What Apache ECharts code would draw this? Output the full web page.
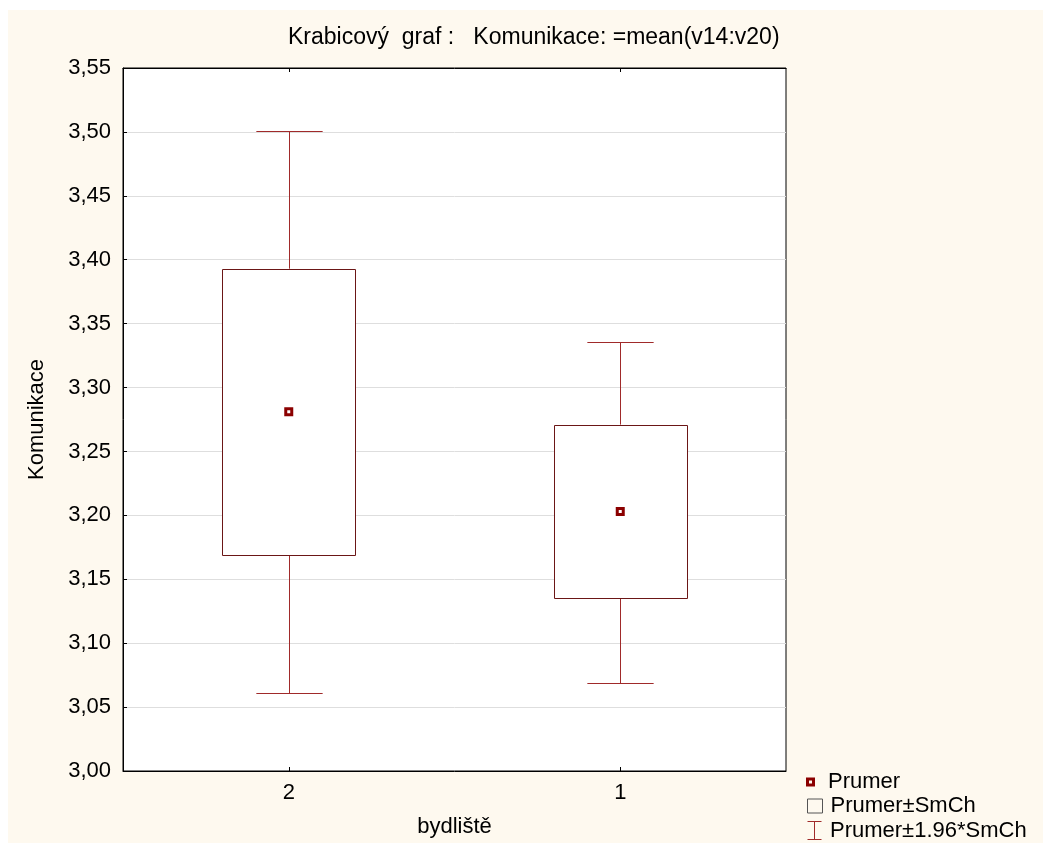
<!DOCTYPE html>
<html>
<head>
<meta charset="utf-8">
<script src="https://cdn.jsdelivr.net/npm/echarts@6/dist/echarts.min.js"></script>
<style>
html,body{margin:0;padding:0;background:#fff;}
#bg{position:absolute;left:8px;top:10px;width:1035px;height:833px;background:#FEF9EF;}
#chart{position:absolute;left:0;top:0;width:1043px;height:843px;}
</style>
</head>
<body>
<div id="bg"></div>
<div id="chart"></div>
<script>
// Data
var categories = ['2', '1'];
var means = [3.281, 3.203];
var seLow = [3.169, 3.135];
var seHigh = [3.393, 3.271];
var ciLow = [3.061, 3.069];
var ciHigh = [3.501, 3.336];
var yTicks = [3.00, 3.55, 0.05]; // min, max, interval

var FONT = '"Liberation Sans", Arial, sans-serif';
var BOX_COLOR = '#6b1616';
var WHISKER_COLOR = '#a02a2a';
var MEAN_COLOR = '#8b0000';

var boxData = categories.map(function (c, i) { return [i, seLow[i], seHigh[i]]; });
var ciData = categories.map(function (c, i) { return [i, ciLow[i], ciHigh[i], seLow[i], seHigh[i]]; });
var meanData = categories.map(function (c, i) { return [i, means[i]]; });

var chart = echarts.init(document.getElementById('chart'), null, {renderer: 'canvas'});
var legendText = {fontFamily: FONT, fontSize: 22, color: '#000'};
var option = {
  backgroundColor: 'transparent',
  animation: false,
  title: {
    text: 'Krabicový  graf :   Komunikace: =mean(v14:v20)',
    left: 288, top: 26, padding: 0,
    textStyle: {fontFamily: FONT, fontSize: 23, fontWeight: 'normal', color: '#000'}
  },
  grid: {
    left: 123, right: 257, top: 68, bottom: 72,
    show: true, backgroundColor: '#fff', borderColor: '#000', borderWidth: 1
  },
  legend: [
    {data: [{name: 'Prumer', icon: 'path://M0,0H9V9H0Z M3,3V6H6V3Z', itemStyle: {color: MEAN_COLOR, borderWidth: 0}}],
     left: 806, top: 771, padding: 0, itemWidth: 9, itemHeight: 9, itemGap: 0, selectedMode: false,
     textStyle: Object.assign({padding: [0, 0, 0, 8]}, legendText)},
    {data: [{name: 'Prumer±SmCh', icon: 'path://M0,0H15V14H0Z', itemStyle: {color: 'none', borderColor: '#555', borderWidth: 1}}],
     left: 805, top: 795, padding: 0, itemWidth: 15, itemHeight: 14, itemGap: 0, selectedMode: false,
     textStyle: Object.assign({padding: [0, 0, 0, 3]}, legendText)},
    {data: [{name: 'Prumer±1.96*SmCh', icon: 'path://M0,0H14M7,0V18M0,18H14', itemStyle: {color: 'none', borderColor: WHISKER_COLOR, borderWidth: 1}}],
     left: 805, top: 819, padding: 0, itemWidth: 15, itemHeight: 18, itemGap: 0, selectedMode: false,
     textStyle: Object.assign({padding: [0, 0, 0, 3]}, legendText)}
  ],
  xAxis: [{
    type: 'category', data: categories, position: 'bottom',
    name: 'bydliště', nameLocation: 'middle', nameGap: 45,
    nameTextStyle: {fontFamily: FONT, fontSize: 22, color: '#000'},
    axisLine: {show: true, lineStyle: {color: '#000', width: 1}},
    axisTick: {show: true, inside: true, alignWithLabel: true, length: 4, lineStyle: {color: '#000'}},
    axisLabel: {fontFamily: FONT, fontSize: 22, color: '#000', margin: 11},
    splitLine: {show: false}
  }, {
    type: 'category', data: categories, position: 'top',
    axisLine: {show: true, lineStyle: {color: '#000', width: 1}},
    axisTick: {show: true, inside: true, alignWithLabel: true, length: 4, lineStyle: {color: '#000'}},
    axisLabel: {show: false},
    splitLine: {show: false}
  }],
  yAxis: {
    type: 'value', min: yTicks[0], max: yTicks[1], interval: yTicks[2],
    name: 'Komunikace', nameLocation: 'middle', nameGap: 75,
    nameTextStyle: {fontFamily: FONT, fontSize: 22, color: '#000'},
    axisLine: {show: true, lineStyle: {color: '#000', width: 1}},
    axisTick: {show: true, inside: true, length: 4, lineStyle: {color: '#000'}},
    axisLabel: {fontFamily: FONT, fontSize: 22, color: '#000', margin: 12,
      formatter: function (v) { return v.toFixed(2).replace('.', ','); }},
    splitLine: {show: true, lineStyle: {color: '#dedede', width: 1}}
  },
  series: [
    {
      name: 'Prumer±1.96*SmCh', type: 'custom', data: ciData, z: 2,
      itemStyle: {color: WHISKER_COLOR, borderColor: WHISKER_COLOR},
      emphasis: {disabled: true},
      renderItem: function (params, api) {
        var x = api.value(0);
        var lo = api.coord([x, api.value(1)]);
        var hi = api.coord([x, api.value(2)]);
        var bLo = api.coord([x, api.value(3)]);
        var bHi = api.coord([x, api.value(4)]);
        var band = api.size([1, 0])[0];
        var half = band * 0.1;
        var cx = Math.round(lo[0]) + 0.5;
        var yh = Math.round(hi[1]) + 0.5;
        var yl = Math.round(lo[1]) + 0.5;
        var d = 'M' + (cx - half) + ',' + yh + 'L' + (cx + half) + ',' + yh +
                'M' + cx + ',' + yh + 'L' + cx + ',' + bHi[1] +
                'M' + cx + ',' + bLo[1] + 'L' + cx + ',' + yl +
                'M' + (cx - half) + ',' + yl + 'L' + (cx + half) + ',' + yl;
        return {type: 'path', shape: {pathData: d},
          style: {fill: 'none', stroke: WHISKER_COLOR, lineWidth: 1}};
      }
    },
    {
      name: 'Prumer±SmCh', type: 'custom', data: boxData, z: 3,
      itemStyle: {color: BOX_COLOR},
      emphasis: {disabled: true},
      renderItem: function (params, api) {
        var x = api.value(0);
        var lo = api.coord([x, api.value(1)]);
        var hi = api.coord([x, api.value(2)]);
        var band = api.size([1, 0])[0];
        var w = band * 0.4;
        var left = Math.round(lo[0] - w / 2) + 0.5;
        var top = Math.round(hi[1]) + 0.5;
        var bottom = Math.round(lo[1]) + 0.5;
        return {type: 'rect', shape: {x: left, y: top, width: Math.round(w), height: bottom - top},
          style: {fill: '#fff', stroke: BOX_COLOR, lineWidth: 1}};
      }
    },
    {
      name: 'Prumer', type: 'scatter', data: meanData, z: 4,
      symbol: 'rect', symbolSize: 6,
      emphasis: {disabled: true},
      itemStyle: {color: '#fff', borderColor: MEAN_COLOR, borderWidth: 3, opacity: 1}
    }
  ]
};
chart.setOption(option);
</script>
</body>
</html>
